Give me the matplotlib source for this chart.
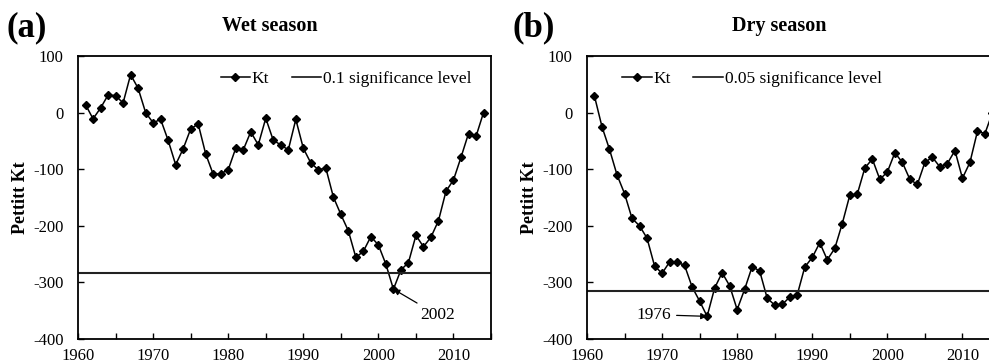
import matplotlib.pyplot as plt
from matplotlib.lines import Line2D

plt.rcParams['font.family'] = ['Liberation Serif', 'DejaVu Serif']
plt.rcParams['axes.unicode_minus'] = False

years = list(range(1961, 2015))

# Pettitt Kt statistic, wet season
kt_wet = [14, -11, 8, 31, 30, 17, 67, 43, 0, -18,
          -12, -49, -92, -64, -29, -20, -73, -109, -108, -101,
          -63, -66, -34, -57, -10, -49, -57, -66, -12, -63,
          -89, -101, -98, -149, -180, -209, -256, -245, -219, -234,
          -268, -312, -278, -265, -217, -237, -220, -191, -139, -119,
          -79, -37, -42, 0]

# Pettitt Kt statistic, dry season
kt_dry = [29, -25, -65, -110, -143, -187, -200, -222, -271, -284,
          -264, -264, -270, -308, -333, -360, -310, -283, -306, -348,
          -312, -272, -280, -328, -340, -339, -326, -322, -273, -256,
          -230, -260, -240, -196, -146, -144, -98, -82, -118, -105,
          -71, -88, -118, -127, -88, -79, -96, -90, -67, -116,
          -88, -33, -37, 0]

sig_wet = -283   # 0.1 significance level
sig_dry = -315   # 0.05 significance level

panels = [
    dict(kt=kt_wet, sig=sig_wet, title='Wet season', tag='(a)', tag_x=-0.172,
         sig_label='0.1 significance level', year=2002, leg_x=0.345,
         note_xy=(2005.6, -358), note_ha='left'),
    dict(kt=kt_dry, sig=sig_dry, title='Dry season', tag='(b)', tag_x=-0.18,
         sig_label='0.05 significance level', year=1976, leg_x=0.085,
         note_xy=(1971.2, -357), note_ha='right'),
]

fig = plt.figure(figsize=(9.89, 3.64), dpi=100)
lefts = [0.0789, 0.5935]

for left, p in zip(lefts, panels):
    ax = fig.add_axes([left, 0.0687, 0.4176, 0.7775])
    ax.plot(years, p['kt'], color='black', lw=1.1, marker='D', markersize=4.2)
    ax.axhline(p['sig'], color='#222222', lw=1.5)

    ax.set_xlim(1960, 2015)
    ax.set_ylim(-400, 100)
    ax.set_xticks(range(1960, 2016, 5))
    ax.set_xticklabels([str(y) if y % 10 == 0 else '' for y in range(1960, 2016, 5)])
    ax.set_yticks(range(-400, 101, 100))
    ax.tick_params(axis='x', direction='in', length=4, width=1, pad=6.5, labelsize=12)
    ax.tick_params(axis='y', direction='in', length=4, width=1, pad=10.5, labelsize=12)
    for s in ax.spines.values():
        s.set_linewidth(1.3)

    ax.set_ylabel('Pettitt Kt', fontsize=13, fontweight='bold', labelpad=3)

    handles = [Line2D([], [], color='black', lw=1.1, marker='D', markersize=4.2),
               Line2D([], [], color='black', lw=1.1)]
    ax.legend(handles, ['Kt', p['sig_label']], ncol=2, frameon=False,
              loc='center left', bbox_to_anchor=(p['leg_x'], 0.92),
              fontsize=12.5, handlelength=1.7, handletextpad=0.1,
              columnspacing=1.3, borderaxespad=0, borderpad=0)

    idx = years.index(p['year'])
    ax.annotate(str(p['year']), xy=(p['year'], p['kt'][idx]), xytext=p['note_xy'],
                ha=p['note_ha'], va='center', fontsize=12.5,
                arrowprops=dict(arrowstyle='-|>', color='black', lw=0.9,
                                mutation_scale=9, shrinkA=2, shrinkB=0))

    ax.text(0.465, 1.105, p['title'], transform=ax.transAxes, ha='center',
            va='center', fontsize=14.5, fontweight='bold')
    ax.text(p['tag_x'], 1.1, p['tag'], transform=ax.transAxes,
            ha='left', va='center', fontsize=25, fontweight='bold')

fig.savefig('out.png', dpi=100)
